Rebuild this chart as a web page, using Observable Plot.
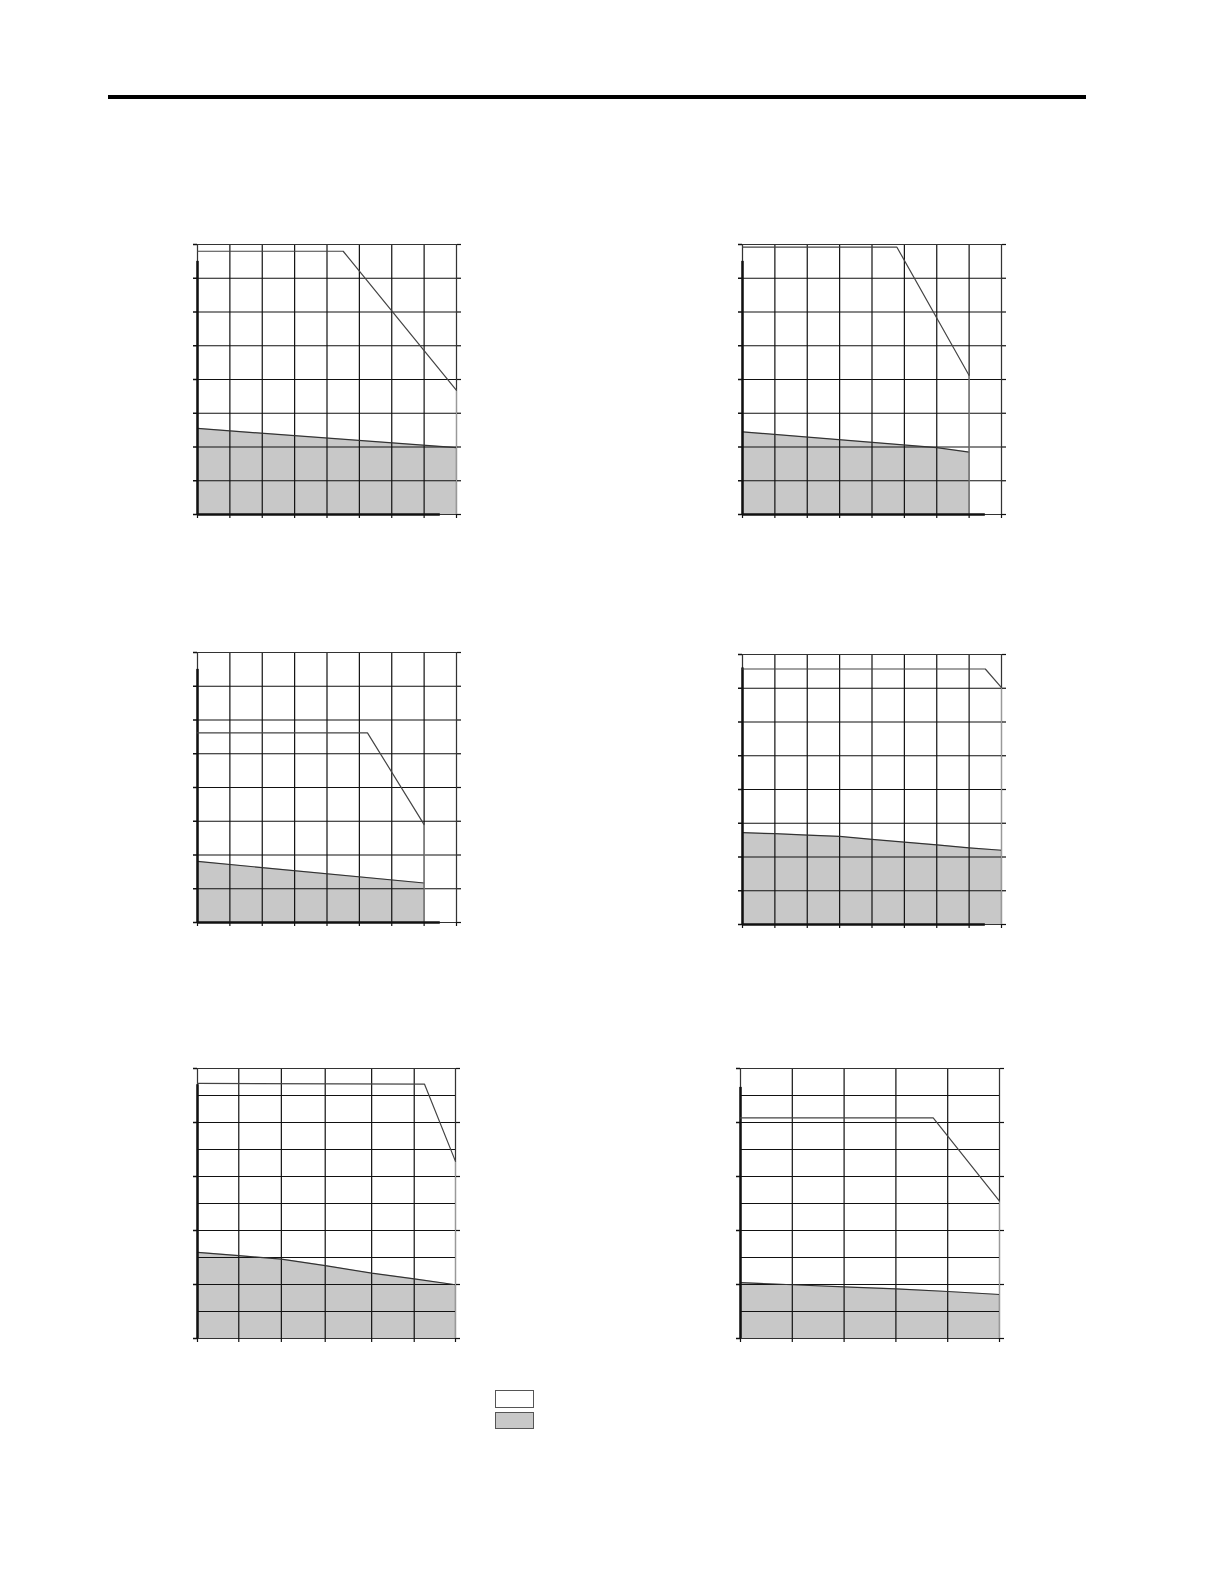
<!DOCTYPE html>
<html>
<head>
<meta charset="utf-8">
<script src="https://cdn.jsdelivr.net/npm/d3@7"></script>
<script src="https://cdn.jsdelivr.net/npm/@observablehq/plot@0.6"></script>
<style>
  html, body { margin: 0; padding: 0; background: #fff; }
  #page { position: relative; width: 1224px; height: 1584px; font-family: "Liberation Sans", Arial, sans-serif; }
  .chart { position: absolute; }
  .rule { position: absolute; left: 108px; top: 95px; width: 978px; height: 4px; background: #000; }
  .key { position: absolute; left: 495px; width: 37px; border: 1.5px solid #555; }
</style>
</head>
<body>
<div id="page">
  <div class="rule"></div>
  <div class="key" style="top:1390px;height:16px;background:#fff;"></div>
  <div class="key" style="top:1412px;height:15px;background:#c8c8c8;"></div>
</div>
<script>
// ---- grid / tick definitions ----
const grid8 = [0, 1, 2, 3, 4, 5, 6, 7, 8];
const grid10 = [0, 1, 2, 3, 4, 5, 6, 7, 8, 9, 10];
const ticks10 = [0, 2, 4, 6, 8, 10];
const grid5x = [0, 1, 2, 3, 4, 5];
const chart5XGrid = [0, 16, 32.5, 49.5, 67.5, 84, 100];

// ---- chart 1 (top left) ----
const c1LineX = [0, 4.5, 8];
const c1LineY = [7.8, 7.8, 3.68];
const c1AreaX = [0, 8];
const c1AreaY = [2.55, 1.98];

// ---- chart 2 (top right) ----
const c2LineX = [0, 4.77, 7];
const c2LineY = [7.92, 7.92, 4.12];
const c2AreaX = [0, 6, 7];
const c2AreaY = [2.45, 1.98, 1.85];

// ---- chart 3 (middle left) ----
const c3LineX = [0, 5.25, 7];
const c3LineY = [5.62, 5.62, 2.9];
const c3AreaX = [0, 7];
const c3AreaY = [1.81, 1.17];

// ---- chart 4 (middle right) ----
const c4LineX = [0, 7.5, 8];
const c4LineY = [7.57, 7.57, 7.02];
const c4AreaX = [0, 1, 2, 3, 4, 5, 6, 7, 8];
const c4AreaY = [2.72, 2.69, 2.65, 2.61, 2.52, 2.44, 2.36, 2.27, 2.2];

// ---- chart 5 (bottom left) ----
const c5LineX = [0, 88, 100];
const c5LineY = [9.45, 9.42, 6.56];
const c5AreaX = [0, 16, 32.5, 49.5, 67.5, 84, 100];
const c5AreaY = [3.19, 3.07, 2.94, 2.7, 2.42, 2.21, 1.99];

// ---- chart 6 (bottom right) ----
const c6LineX = [0, 3.72, 5];
const c6LineY = [8.17, 8.17, 5.09];
const c6AreaX = [0, 1, 2, 3, 4, 5];
const c6AreaY = [2.07, 1.99, 1.91, 1.84, 1.74, 1.63];

const ML = 12, MR = 12, MT = 4, MB = 12;

function makeChart(o) {
  const line = o.lineX.map((x, i) => ({x, y: o.lineY[i]}));
  const area = o.areaX.map((x, i) => ({x, y: o.areaY[i]}));
  const lastX = o.lineX[o.lineX.length - 1];
  const lastLineY = o.lineY[o.lineY.length - 1];
  const svg = Plot.plot({
    width: o.w + ML + MR,
    height: o.h + MT + MB,
    marginLeft: ML, marginRight: MR, marginTop: MT, marginBottom: MB,
    x: {domain: o.xDomain},
    y: {domain: o.yDomain},
    marks: [
      Plot.areaY(area, {x: "x", y: "y", fill: "#c8c8c8"}),
      Plot.gridX(o.xGrid, {stroke: "#111", strokeOpacity: 1, strokeWidth: 1.2}),
      Plot.gridY(o.yGrid, {stroke: "#111", strokeOpacity: 1, strokeWidth: 1.2}),
      Plot.frame({stroke: "#333", strokeWidth: 1}),
      Plot.axisY(o.yTicks, {anchor: "left", tickSize: 4, tickFormat: () => "", label: null, stroke: "#111", strokeWidth: 1.5}),
      Plot.axisY(o.yTicks, {anchor: "right", tickSize: 4, tickFormat: () => "", label: null, stroke: "#111", strokeWidth: 1.2}),
      Plot.axisX(o.xGrid, {anchor: "bottom", tickSize: 4, tickFormat: () => "", label: null, stroke: "#111", strokeWidth: 1.2}),
      Plot.lineY(area, {x: "x", y: "y", stroke: "#333", strokeWidth: 1.2}),
      Plot.ruleX([lastX], {y1: 0, y2: lastLineY, stroke: "#999", strokeWidth: 1}),
      Plot.ruleX([0], {y1: 0, y2: o.leftAxisTop, stroke: "#111", strokeWidth: 2.5}),
      Plot.ruleY([0], {x1: 0, x2: o.bottomAxisEnd, stroke: "#111", strokeWidth: 2.5}),
      Plot.line(line, {x: "x", y: "y", stroke: "#444", strokeWidth: 1.2})
    ]
  });
  svg.classList.add("chart");
  svg.style.left = (o.left - ML) + "px";
  svg.style.top = (o.top - MT) + "px";
  document.getElementById("page").appendChild(svg);
}

makeChart({left: 197, top: 244, w: 259, h: 270, xDomain: [0, 8], yDomain: [0, 8],
  xGrid: grid8, yGrid: grid8, yTicks: grid8, lineX: c1LineX, lineY: c1LineY, areaX: c1AreaX, areaY: c1AreaY,
  leftAxisTop: 7.5, bottomAxisEnd: 7.5});
makeChart({left: 742, top: 244, w: 259, h: 270, xDomain: [0, 8], yDomain: [0, 8],
  xGrid: grid8, yGrid: grid8, yTicks: grid8, lineX: c2LineX, lineY: c2LineY, areaX: c2AreaX, areaY: c2AreaY,
  leftAxisTop: 7.5, bottomAxisEnd: 7.5});
makeChart({left: 197, top: 652, w: 259, h: 270, xDomain: [0, 8], yDomain: [0, 8],
  xGrid: grid8, yGrid: grid8, yTicks: grid8, lineX: c3LineX, lineY: c3LineY, areaX: c3AreaX, areaY: c3AreaY,
  leftAxisTop: 7.5, bottomAxisEnd: 7.5});
makeChart({left: 742, top: 654, w: 259, h: 270, xDomain: [0, 8], yDomain: [0, 8],
  xGrid: grid8, yGrid: grid8, yTicks: grid8, lineX: c4LineX, lineY: c4LineY, areaX: c4AreaX, areaY: c4AreaY,
  leftAxisTop: 7.6, bottomAxisEnd: 7.5});
makeChart({left: 197, top: 1068, w: 258, h: 270, xDomain: [0, 100], yDomain: [0, 10],
  xGrid: chart5XGrid, yGrid: grid10, yTicks: ticks10, lineX: c5LineX, lineY: c5LineY, areaX: c5AreaX, areaY: c5AreaY,
  leftAxisTop: 9.4, bottomAxisEnd: 0});
makeChart({left: 740, top: 1068, w: 259, h: 270, xDomain: [0, 5], yDomain: [0, 10],
  xGrid: grid5x, yGrid: grid10, yTicks: ticks10, lineX: c6LineX, lineY: c6LineY, areaX: c6AreaX, areaY: c6AreaY,
  leftAxisTop: 9.3, bottomAxisEnd: 0});
</script>
</body>
</html>
